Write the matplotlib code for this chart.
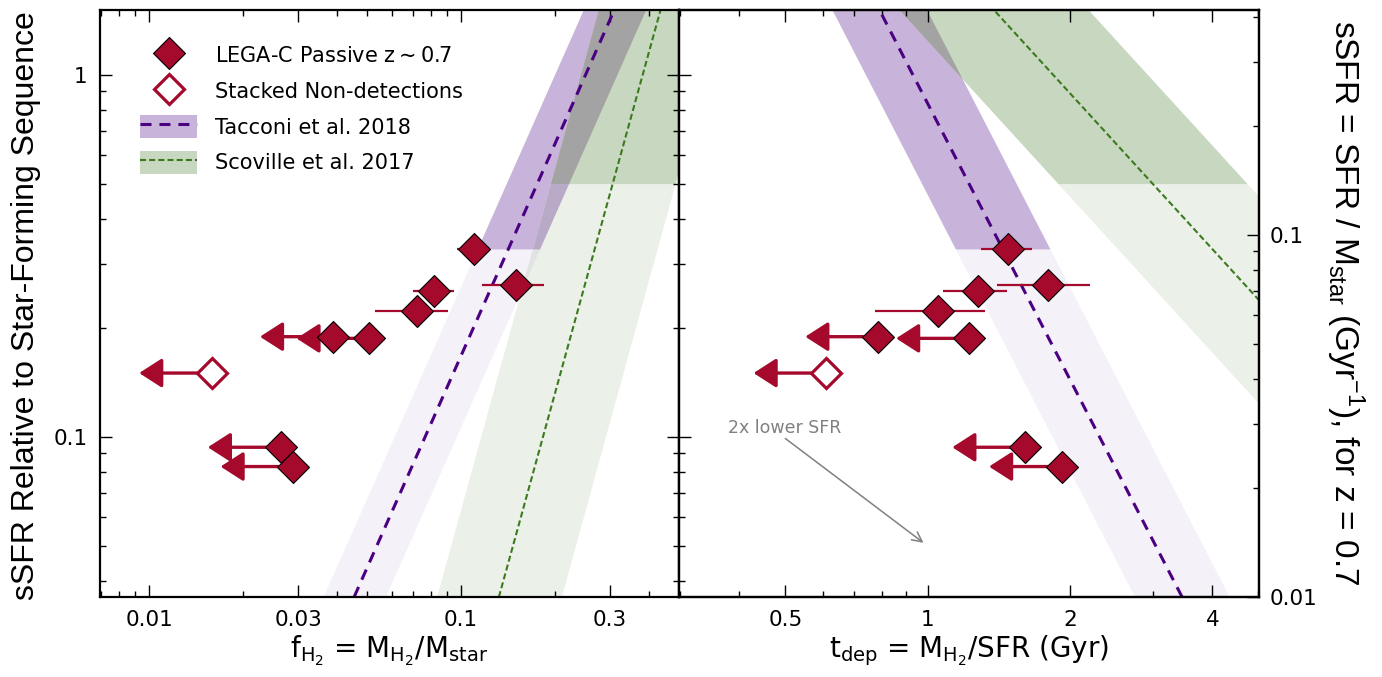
import numpy as np
import matplotlib
matplotlib.use('Agg')
import matplotlib.pyplot as plt
from matplotlib.patches import Patch
from matplotlib.lines import Line2D
from matplotlib.colors import to_rgb
from matplotlib.ticker import FixedLocator, LogLocator, NullFormatter, FuncFormatter

# ---------------- data ----------------
# detected galaxies (filled diamonds with error bars)
ssfr_det = [0.330, 0.263, 0.252, 0.222]
fh2_det = [0.110, 0.150, 0.082, 0.072]
fh2_det_lo = [0.097, 0.117, 0.070, 0.053]
fh2_det_hi = [0.124, 0.184, 0.095, 0.091]
tdep_det = [1.48, 1.80, 1.275, 1.05]
tdep_det_lo = [1.295, 1.405, 1.078, 0.775]
tdep_det_hi = [1.665, 2.20, 1.472, 1.321]

# non-detections (upper limits)
ssfr_lim = [0.189, 0.187, 0.0936, 0.0828]
fh2_lim = [0.0388, 0.0508, 0.0264, 0.0290]
tdep_lim = [0.786, 1.223, 1.608, 1.923]

# stacked non-detections
ssfr_stack = [0.150]
fh2_stack = [0.0159]
tdep_stack = [0.611]

# scaling relations: value = norm * (sSFR/sSFR_MS)**slope, +/- dex scatter
tacconi_fh2 = dict(norm=0.251, slope=0.515, dex=0.10, ythr=0.33)
scoville_fh2 = dict(norm=0.3826, slope=0.32, dex=0.20, ythr=0.50)
tacconi_tdep = dict(norm=0.93, slope=-0.395, dex=0.10, ythr=0.33)
scoville_tdep = dict(norm=1.84, slope=-0.70, dex=0.20, ythr=0.50)

left_xticks = [0.01, 0.03, 0.1, 0.3]
right_xticks = [0.5, 1, 2, 4]
left_yticks = [0.1, 1]
right_yticks = [0.01, 0.1]

# arrow annotation "2x lower SFR"
sfr_arrow_start = (0.50, 0.099)
sfr_arrow_end = (0.98, 0.051)

# ---------------- style ----------------
RED = '#A50A2D'
PURPLE = '#4B0082'
GREEN = '#3C7A1E'
P_DARK = '#C8B4DA'
P_LIGHT = '#F4F1F8'
G_DARK = '#C8D7C0'
G_LIGHT = '#EBF0E8'
OVERLAP_DARK = '#A3A3A3'
for r in (tacconi_fh2, tacconi_tdep):
    r['dark'], r['light'] = P_DARK, P_LIGHT
for r in (scoville_fh2, scoville_tdep):
    r['dark'], r['light'] = G_DARK, G_LIGHT

TICKFONT = 'DejaVu Sans'
LABELFONT = 'Liberation Sans'

XLIM_L = (0.00695, 0.50)
XLIM_R = (0.298, 5.02)
YLIM = (0.03614, 1.507)
YLIM_R = (0.01, 0.01 * YLIM[1] / YLIM[0])

W, H = 1382, 677
fig = plt.figure(figsize=(W / 100, H / 100), dpi=100)
ax1 = fig.add_axes([100 / W, 80 / H, 579 / W, 587 / H])
ax2 = fig.add_axes([679 / W, 80 / H, 580 / W, 587 / H], sharey=ax1)

Y_BREAKS = [YLIM[0], 0.33, 0.5, YLIM[1]]


def multiply(c1, c2):
    if c1 == P_DARK and c2 == G_DARK:
        return OVERLAP_DARK
    a, b = to_rgb(c1), to_rgb(c2)
    return tuple(x * y for x, y in zip(a, b))


def curves(r, y):
    c = r['norm'] * y ** r['slope']
    return c * 10 ** (-r['dex']), c, c * 10 ** r['dex']


def draw_bands(ax, rA, rB):
    for r in (rA, rB):
        for y0, y1, col in ((YLIM[0], r['ythr'], r['light']), (r['ythr'], YLIM[1], r['dark'])):
            y = np.logspace(np.log10(y0), np.log10(y1), 300)
            lo, _, hi = curves(r, y)
            ax.fill_betweenx(y, lo, hi, color=col, lw=0, zorder=1)
    for y0, y1 in zip(Y_BREAKS[:-1], Y_BREAKS[1:]):
        y = np.logspace(np.log10(y0), np.log10(y1), 300)
        loA, _, hiA = curves(rA, y)
        loB, _, hiB = curves(rB, y)
        colA = rA['dark'] if y0 >= rA['ythr'] - 1e-9 else rA['light']
        colB = rB['dark'] if y0 >= rB['ythr'] - 1e-9 else rB['light']
        lo = np.maximum(loA, loB)
        hi = np.minimum(hiA, hiB)
        if np.any(hi > lo):
            ax.fill_betweenx(y, lo, hi, where=hi > lo, interpolate=True,
                             color=multiply(colA, colB), lw=0, zorder=1.2)
    y = np.logspace(np.log10(YLIM[0]), np.log10(YLIM[1]), 300)
    ax.plot(curves(rA, y)[1], y, color=PURPLE, lw=2.2, ls=(0, (3.6, 2.6)), zorder=2)
    ax.plot(curves(rB, y)[1], y, color=GREEN, lw=1.5, ls=(0, (2.9, 1.5)), zorder=2)


def draw_points(ax, xdet, xlo, xhi, xlim_, xstack):
    xdet = np.array(xdet)
    ax.errorbar(xdet, ssfr_det, xerr=[xdet - np.array(xlo), np.array(xhi) - xdet],
                fmt='none', ecolor=RED, elinewidth=1.6, capsize=0, zorder=3)
    for xv, yv in list(zip(xlim_, ssfr_lim)) + list(zip(xstack, ssfr_stack)):
        ax.annotate('', xy=(xv, yv), xycoords='data', xytext=(-52.5, 0),
                    textcoords='offset points',
                    arrowprops=dict(arrowstyle='<|-,head_length=1.4,head_width=0.9',
                                    color=RED, lw=2.4, shrinkA=0, shrinkB=0,
                                    mutation_scale=10),
                    zorder=3)
    ax.plot(list(xdet) + list(xlim_), ssfr_det + ssfr_lim, 'D', ms=16.3, mfc=RED,
            mec='black', mew=0.8, ls='none', zorder=5)
    ax.plot(xstack, ssfr_stack, 'D', ms=15.3, mfc='white', mec=RED, mew=2.3,
            ls='none', zorder=5)


draw_bands(ax1, tacconi_fh2, scoville_fh2)
draw_bands(ax2, tacconi_tdep, scoville_tdep)
draw_points(ax1, fh2_det, fh2_det_lo, fh2_det_hi, fh2_lim, fh2_stack)
draw_points(ax2, tdep_det, tdep_det_lo, tdep_det_hi, tdep_lim, tdep_stack)

ax2.annotate('', xy=sfr_arrow_end, xytext=sfr_arrow_start,
             arrowprops=dict(arrowstyle='->,head_length=0.7,head_width=0.35',
                             color='#808080', lw=1.1, shrinkA=0, shrinkB=0,
                             mutation_scale=10))
ax2.text(0.378, 0.1024, '2x lower SFR', color='#808080', fontsize=12.5,
         family=TICKFONT, ha='left', va='baseline')

# ---------------- axes ----------------
fmt = FuncFormatter(lambda v, p: f'{v:g}')
for ax in (ax1, ax2):
    ax.set_xscale('log')
    ax.set_yscale('log')
ax1.set_xlim(*XLIM_L)
ax2.set_xlim(*XLIM_R)
ax1.set_ylim(*YLIM)

ax2r = ax2.twinx()
ax2r.set_yscale('log')
ax2r.set_ylim(*YLIM_R)

ax1.xaxis.set_major_locator(FixedLocator(left_xticks))
ax2.xaxis.set_major_locator(FixedLocator(right_xticks))
ax1.yaxis.set_major_locator(FixedLocator(left_yticks))
ax2r.yaxis.set_major_locator(FixedLocator(right_yticks))
for axis in (ax1.xaxis, ax2.xaxis, ax1.yaxis, ax2r.yaxis):
    axis.set_minor_locator(LogLocator(base=10, subs=np.arange(2, 10), numticks=50))
    axis.set_minor_formatter(NullFormatter())
    axis.set_major_formatter(fmt)

common = dict(direction='in', width=1.0, labelsize=15.5)
for ax in (ax1, ax2, ax2r):
    ax.tick_params(which='major', length=8.6, **common)
    ax.tick_params(which='minor', length=4.3, direction='in', width=1.0)
ax1.tick_params(which='both', top=True, right=True, left=True, bottom=True)
ax1.tick_params(axis='x', pad=9)
ax1.tick_params(axis='y', pad=9)
ax2.tick_params(which='both', top=True, right=False, left=True, bottom=True,
                labelleft=False)
ax2.tick_params(axis='x', pad=9)
ax2r.tick_params(which='both', right=True, left=False, labelright=True)
ax2r.tick_params(axis='y', pad=8)
for ax in (ax1, ax2, ax2r):
    for lab in ax.get_xticklabels() + ax.get_yticklabels():
        lab.set_family(TICKFONT)
    for s in ax.spines.values():
        s.set_linewidth(1.6)

ax1.set_xlabel(r'f$_{\mathregular{H_2}}$ = M$_{\mathregular{H_2}}$/M$_{\mathregular{star}}$',
               fontsize=20, family=TICKFONT, labelpad=3)
ax2.set_xlabel(r't$_{\mathregular{dep}}$ = M$_{\mathregular{H_2}}$/SFR (Gyr)',
               fontsize=20, family=TICKFONT, labelpad=3)

fig.text(26 / W, 1 - 306 / H, 'sSFR Relative to Star-Forming Sequence', rotation=90,
         ha='center', va='center', fontsize=23, family=LABELFONT)
fig.text(1345 / W, 1 - 303 / H,
         r'sSFR = SFR / M$_{\mathregular{star}}$ (Gyr$^{\mathregular{-1}}$), for z = 0.7',
         rotation=270, ha='center', va='center', fontsize=24, family=LABELFONT)

# ---------------- legend ----------------
h1 = Line2D([], [], marker='D', ms=16.3, mfc=RED, mec='black', mew=0.8, ls='none')
h2 = Line2D([], [], marker='D', ms=15.3, mfc='white', mec=RED, mew=2.3, ls='none')
h3 = (Patch(facecolor=P_DARK, edgecolor='none'),
      Line2D([], [], color=PURPLE, lw=2.2, ls=(0, (3.6, 2.6))))
h4 = (Patch(facecolor=G_DARK, edgecolor='none'),
      Line2D([], [], color=GREEN, lw=1.5, ls=(0, (2.9, 1.5))))
labels = [r'LEGA-C Passive z$\sim$0.7', 'Stacked Non-detections',
          'Tacconi et al. 2018', 'Scoville et al. 2017']
leg = ax1.legend([h1, h2, h3, h4], labels, loc='upper left',
                 bbox_to_anchor=(40 / 579, (597 - 44) / 587), frameon=False,
                 prop=dict(family=TICKFONT, size=15), handlelength=2.75,
                 handleheight=1.3, handletextpad=0.85, labelspacing=0.62,
                 borderpad=0, borderaxespad=0)

fig.savefig('out.png', dpi=100)
